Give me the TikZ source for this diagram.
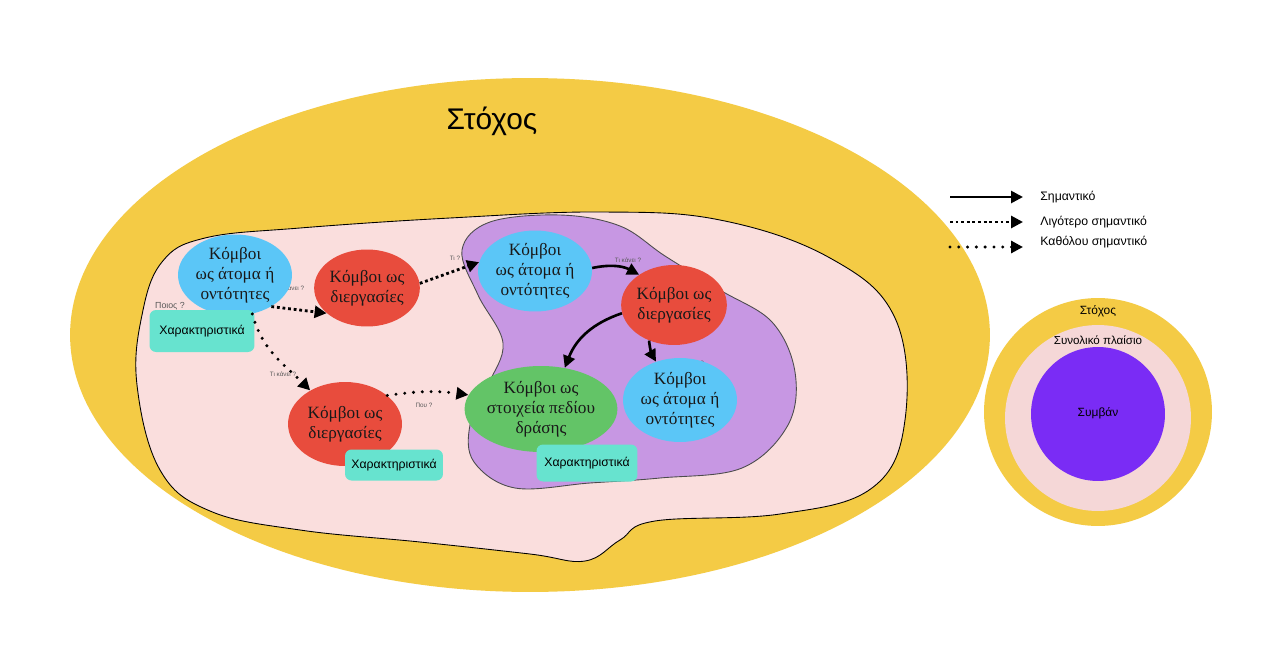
\documentclass[tikz,border=0pt]{standalone}
\usepackage{fontspec}
\setmainfont{Liberation Serif}
\setsansfont{Liberation Sans}
\usetikzlibrary{shapes.geometric,arrows.meta}
\definecolor{stoxos}{HTML}{F4CB45}
\definecolor{plaisio}{HTML}{FADEDD}
\definecolor{plaisio2}{HTML}{F5D7D7}
\definecolor{pedio}{HTML}{C797E3}
\definecolor{mple}{HTML}{5BC6F7}
\definecolor{kokkino}{HTML}{E84C3D}
\definecolor{prasino}{HTML}{63C467}
\definecolor{tirkouaz}{HTML}{67E3CF}
\definecolor{symvan}{HTML}{7A2CF5}
\begin{document}
\begin{tikzpicture}[x=0.02cm,y=-0.02cm,>={Triangle[length=0.24cm,width=0.24cm]},
	kombos/.style={ellipse,inner sep=0pt,align=center,text=black!90,font=\fontsize{9.8}{11.5}\selectfont},
	atoma/.style={kombos,fill=mple,minimum width=2.28cm,minimum height=1.62cm},
	diergasia/.style={kombos,fill=kokkino,minimum width=1.8cm,minimum height=1.54cm},
	xarakt/.style={rectangle,rounded corners=0.13cm,fill=tirkouaz,inner sep=0pt,font=\sffamily\fontsize{7}{8}\selectfont},
	erotisi/.style={inner sep=0pt,text=black!65,font=\sffamily\fontsize{3.6}{4}\selectfont},
	simantiko/.style={->,line width=1.5pt},
	ligotero/.style={->,line width=1.6pt,dash pattern=on 1.6pt off 1.6pt},
	katholou/.style={->,line width=1.9pt,line cap=round,dash pattern=on 0pt off 5pt},
	legtext/.style={anchor=west,inner sep=0pt,font=\sffamily\fontsize{7}{8}\selectfont}]
	\useasboundingbox (0,0) rectangle (1272,663);
	\fill[white] (0,0) rectangle (1272,663);
	% ο στόχος και τα δύο πλαίσια
	\fill[stoxos] (530,335) ellipse [x radius=9.2cm,y radius=5.14cm];
	\node[font=\sffamily\fontsize{17}{19}\selectfont] (stoxos) at (492,121) {Στόχος};
	\draw[fill=plaisio,line width=0.5pt] plot[smooth cycle,tension=0.65] coordinates {(137,385) (142,315) (162,262) (205,238) (300,228) (450,218) (600,212) (720,220) (830,258) (895,318) (905,420) (872,488) (780,514) (655,521) (620,540) (585,561) (530,554) (420,542) (300,530) (210,511) (160,470)};
	\draw[fill=pedio,draw=black!70,line width=0.5pt] plot[smooth cycle,tension=0.6] coordinates {(462,250) (490,222) (560,215) (620,226) (665,256) (720,290) (772,322) (795,372) (788,425) (742,468) (660,478) (590,483) (515,488) (474,462) (470,425) (488,385) (503,343) (478,295)};
	% ερωτήσεις πάνω στα βέλη
	\node[erotisi,font=\sffamily\fontsize{5}{6}\selectfont] (poios) at (170,306) {Ποιος ?};
	\node[erotisi] (tikanei1) at (291,288) {Τι κάνει ?};
	\node[erotisi] (ti) at (455,258) {Τι ?};
	\node[erotisi] (tikanei2) at (283,374) {Τι κάνει ?};
	\node[erotisi] (pou) at (424,405) {Που ?};
	\node[erotisi] (tikanei3) at (628,260) {Τι κάνει ?};
	\node[erotisi] (tipoion) at (685,363) {Τι ? / Ποιον ?};
	% κόμβοι
	\node[atoma] (A) at (235,275) {Κόμβοι\\ως άτομα ή\\οντότητες};
	\node[diergasia] (B) at (367,288) {Κόμβοι ως\\διεργασίες};
	\node[diergasia,minimum width=2.28cm,minimum height=1.68cm] (C) at (345,424) {Κόμβοι ως\\διεργασίες};
	\node[atoma] (D) at (535,271) {Κόμβοι\\ως άτομα ή\\οντότητες};
	\node[diergasia,minimum width=1.84cm,minimum height=1.6cm] (E) at (674,305) {Κόμβοι ως\\διεργασίες};
	\node[atoma,minimum height=1.68cm] (F) at (680,400) {Κόμβοι\\ως άτομα ή\\οντότητες};
	\node[kombos,fill=prasino,minimum width=2.36cm,minimum height=1.72cm] (G) at (541,409) {Κόμβοι ως\\στοιχεία πεδίου\\δράσης};
	\node[xarakt,minimum width=2.1cm,minimum height=0.84cm] (X1) at (202,331) {Χαρακτηριστικά};
	\node[xarakt,minimum width=1.96cm,minimum height=0.62cm] (X2) at (394,465) {Χαρακτηριστικά};
	\node[xarakt,minimum width=2.02cm,minimum height=0.74cm] (X3) at (587,463) {Χαρακτηριστικά};
	% βέλη
	\draw[ligotero] (A.-41) -- (B.212);
	\draw[katholou] (A.-66) to[out=-75,in=135] (C.136);
	\draw[ligotero] (B.5) -- (D.171);
	\draw[katholou] (C.34) to[bend left=8] (G.169);
	\draw[simantiko] (D.3) to[bend left=20] (E.139);
	\draw[simantiko] (E.189) to[bend right=25] (G.60);
	\draw[simantiko] (E.235) to[bend right=12] (F.122);
	% υπόμνημα
	\node[legtext] (leg1) at (1040,197) {Σημαντικό};
	\node[legtext] (leg2) at (1040,222) {Λιγότερο σημαντικό};
	\node[legtext] (leg3) at (1040,242) {Καθόλου σημαντικό};
	\coordinate (l1) at (950,197);
	\coordinate (l2) at (950,222);
	\coordinate (l3) at (950,247);
	\coordinate (l1e) at (1023,197);
	\coordinate (l2e) at (1023,222);
	\coordinate (l3e) at (1023,247);
	\draw[simantiko] (l1) -- (l1e);
	\draw[ligotero] (l2) -- (l2e);
	\draw[katholou] (l3) -- (l3e);
	% κύκλοι στα δεξιά
	\fill[stoxos] (1098,412) circle (2.28cm);
	\fill[plaisio2] (1098,418) circle (1.86cm);
	\fill[symvan] (1098,414) circle (1.34cm);
	\node[font=\sffamily\fontsize{6.8}{8}\selectfont] (stoxos2) at (1098,311) {Στόχος};
	\node[font=\sffamily\fontsize{6.6}{8}\selectfont] (synoliko) at (1098,340) {Συνολικό πλαίσιο};
	\node[font=\sffamily\fontsize{6.8}{8}\selectfont] (symvan) at (1098,413) {Συμβάν};
\end{tikzpicture}
\end{document}
